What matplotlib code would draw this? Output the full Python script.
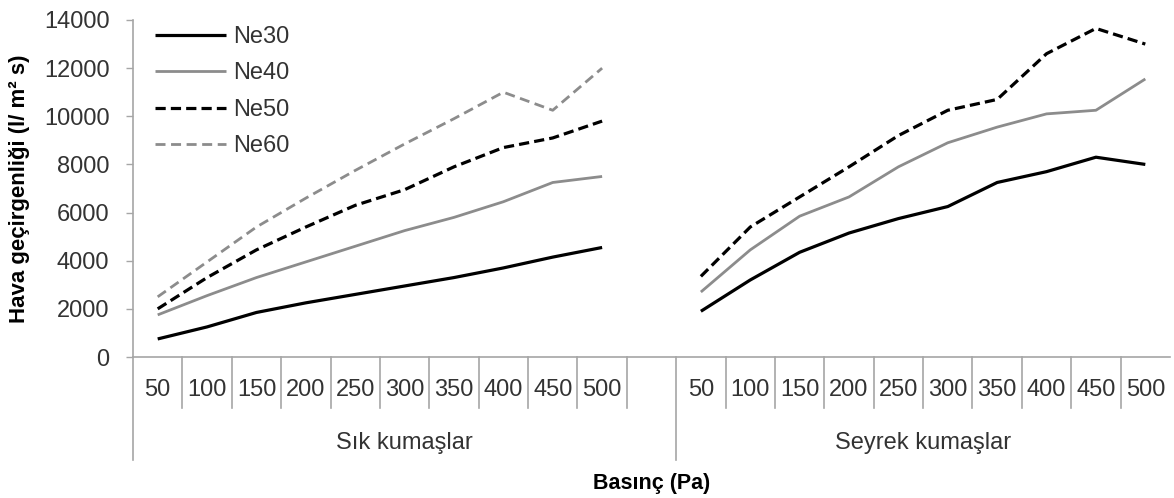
import numpy as np
import matplotlib.pyplot as plt
from matplotlib.transforms import blended_transform_factory

plt.rcParams["font.family"] = ["Liberation Sans", "DejaVu Sans"]

# Data.
pressures     = [50, 100, 150, 200, 250, 300, 350, 400, 450, 500]
groups        = ["Sık kumaşlar", "Seyrek kumaşlar"]
seriesNames   = ["Ne30", "Ne40", "Ne50", "Ne60"]

ne30Sik       = [750, 1250, 1850, 2250, 2600, 2950, 3300, 3700, 4150, 4550]
ne40Sik       = [1750, 2550, 3300, 3950, 4600, 5250, 5800, 6450, 7250, 7500]
ne50Sik       = [2000, 3300, 4450, 5400, 6300, 6950, 7900, 8700, 9100, 9800]
ne60Sik       = [2500, 3950, 5400, 6600, 7750, 8850, 9900, 11000, 10250, 12000]

ne30Seyrek    = [1900, 3200, 4350, 5150, 5750, 6250, 7250, 7700, 8300, 8000]
ne40Seyrek    = [2700, 4450, 5850, 6650, 7900, 8900, 9550, 10100, 10250, 11550]
ne50Seyrek    = [3350, 5400, 6650, 7900, 9200, 10250, 10700, 12600, 13650, 13000]
ne60Seyrek    = [np.nan] * 10

yTicks        = list(range(0, 14001, 2000))

axisColor = "#a6a6a6"
textColor = "#333333"
gray      = "#8c8c8c"

styles = {
    "Ne30" : dict(color="black", linestyle="-", linewidth=2.3),
    "Ne40" : dict(color=gray, linestyle="-", linewidth=2.0),
    "Ne50" : dict(color="black", linestyle=(0, (3.2, 1.6)), linewidth=2.3),
    "Ne60" : dict(color=gray, linestyle=(0, (3.6, 2.0)), linewidth=2.0),
}

# Each group takes its 10 categories plus one empty slot after the first group.
nSlots  = len(pressures) * 2 + 1
xSik    = np.arange(len(pressures)) + 0.5
xSeyrek = np.arange(len(pressures)) + len(pressures) + 1.5
xAll    = np.concatenate([xSik, [len(pressures) + 0.5], xSeyrek])

sikData    = [ne30Sik, ne40Sik, ne50Sik, ne60Sik]
seyrekData = [ne30Seyrek, ne40Seyrek, ne50Seyrek, ne60Seyrek]

figure = plt.figure(figsize=(11.74, 4.98), dpi=100)
axes   = figure.add_axes([133/1174, 1-357/498, (1170-133)/1174, (357-20)/498])

for name, sik, seyrek in zip(seriesNames, sikData, seyrekData):
    values = np.concatenate([sik, [np.nan], seyrek])
    axes.plot(xAll, values, label=name, solid_capstyle="butt", dash_capstyle="butt", **styles[name])

axes.set_xlim(0, nSlots)
axes.set_ylim(0, 14000)
axes.set_yticks(yTicks)
axes.tick_params(axis="y", direction="out", length=5, width=1, color=axisColor,
                 pad=12, labelsize=17, labelcolor=textColor)

# Category axis: pressure labels under each slot.
labels = [str(p) for p in pressures] + [""] + [str(p) for p in pressures]
axes.set_xticks(xAll)
axes.set_xticklabels(labels)
axes.tick_params(axis="x", length=0, pad=24, labelsize=17, labelcolor=textColor)
for label in axes.get_xticklabels():
    label.set_verticalalignment("center")

for side in ["top", "right"]:
    axes.spines[side].set_visible(False)
for side in ["left", "bottom"]:
    axes.spines[side].set_color(axisColor)
    axes.spines[side].set_linewidth(1.2)

# Separator lines below the axis, in axes units vertically.
trans      = blended_transform_factory(axes.transData, axes.transAxes)
shortDrop  = -(408-357)/337
longDrop   = -(460-357)/337
for i in range(0, nSlots):
    bottom = longDrop if i in (0, len(pressures) + 1) else shortDrop
    axes.plot([i, i], [0, bottom], transform=trans, color=axisColor, linewidth=1.2, clip_on=False)

groupCenters = [(len(pressures) + 1) / 2, len(pressures) + 1 + len(pressures) / 2]
for name, center in zip(groups, groupCenters):
    axes.text(center, -(443-357)/337, name, transform=trans, ha="center", va="center",
              fontsize=17, color=textColor)

axes.set_xlabel("Basınç (Pa)", fontsize=15.5, fontweight="bold", va="center")
axes.xaxis.set_label_coords(0.5, -(483-357)/337)
axes.set_ylabel("Hava geçirgenliği (l/ m² s)", fontsize=16, fontweight="bold", va="center")
axes.yaxis.set_label_coords(-(133-20)/1037, 0.5)

legend = axes.legend(loc="upper left", bbox_to_anchor=(0.005, 1.031), frameon=False, fontsize=17,
                     handlelength=3.0, handletextpad=0.3, labelspacing=0.61, borderaxespad=0.3)
for text in legend.get_texts():
    text.set_color(textColor)

figure.savefig("out.png", dpi=100)
